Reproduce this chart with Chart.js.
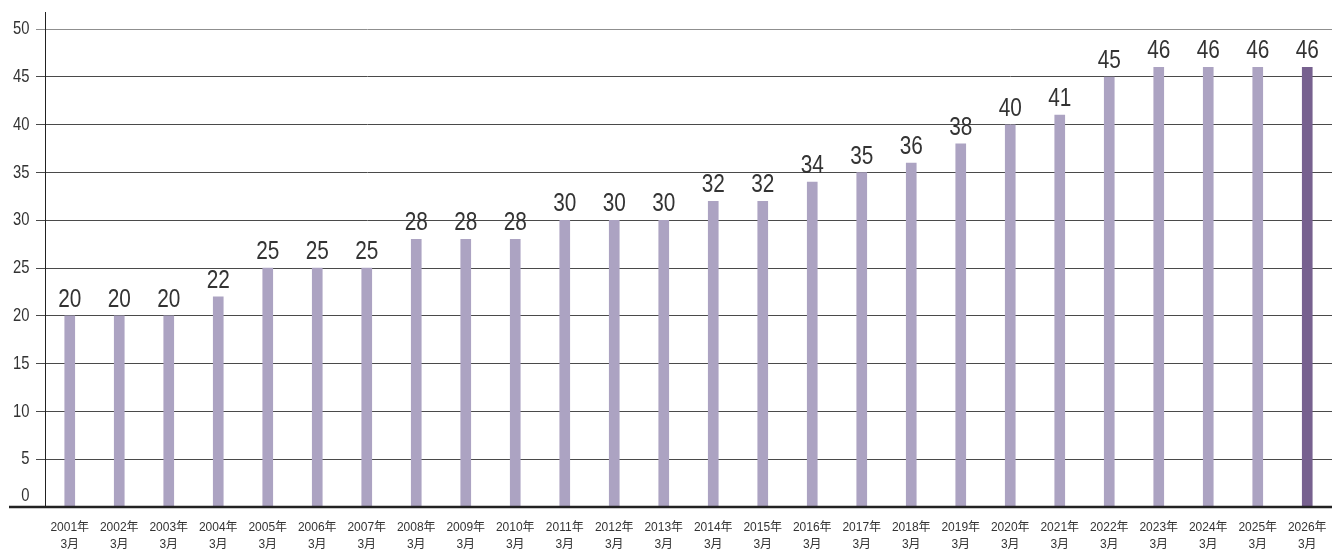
<!DOCTYPE html>
<html>
<head>
<meta charset="utf-8">
<script src="https://cdn.jsdelivr.net/npm/chart.js@4"></script>
<style>
  body { margin: 0; background: #fff; }
  #wrap { width: 1332px; height: 549px; }
</style>
</head>
<body>
<div id="wrap"><canvas id="countChart"></canvas></div>
<script>
// 각 연도 3월 기준 값
const years = [2001, 2002, 2003, 2004, 2005, 2006, 2007, 2008, 2009, 2010, 2011, 2012, 2013,
               2014, 2015, 2016, 2017, 2018, 2019, 2020, 2021, 2022, 2023, 2024, 2025, 2026];
const counts = [20, 20, 20, 22, 25, 25, 25, 28, 28, 28, 30, 30, 30,
                32, 32, 34, 35, 36, 38, 40, 41, 45, 46, 46, 46, 46];
const monthLabel = '3月';
const yTopTick = 50;
const yStep = 5;

const fontFamily = "'Liberation Sans', Arial, 'Noto Sans CJK JP', sans-serif";
const textColor = '#333';
const barColor = '#aca3c2';
const lastBarColor = '#77618f';
const narrow = 0.8;   // 글자 가로 폭 축소 비율

// x축 레이블: 2줄 (연도 / 월)
const xLabels = years.map(y => [`${y}年`, monthLabel]);

// 가로로 좁힌 글자 그리기
const drawNarrowText = (ctx, text, x, y) => {
    ctx.save();
    ctx.translate(x, y);
    ctx.scale(narrow, 1);
    ctx.fillText(text, 0, 0);
    ctx.restore();
};

// 막대 위 값 표시
const barLabels = {
    id: 'barLabels',
    afterDatasetsDraw(chart) {
        const { ctx } = chart;
        const meta = chart.getDatasetMeta(0);
        ctx.save();
        ctx.font = `26px ${fontFamily}`;
        ctx.fillStyle = textColor;
        ctx.textAlign = 'center';
        ctx.textBaseline = 'alphabetic';
        meta.data.forEach((bar, i) => {
            drawNarrowText(ctx, String(counts[i]), bar.x, bar.y - 9);
        });
        ctx.restore();
    }
};

// y축 눈금 글자 (좁은 글꼴), 0은 기준선 위로 올림
const yTickText = {
    id: 'yTickText',
    afterDraw(chart) {
        const { ctx } = chart;
        const yScale = chart.scales.y;
        ctx.save();
        ctx.font = `18.5px ${fontFamily}`;
        ctx.fillStyle = textColor;
        ctx.textAlign = 'right';
        ctx.textBaseline = 'middle';
        yScale.ticks.forEach(t => {
            let y = yScale.getPixelForValue(t.value);
            if (t.value === 0) y -= 11;
            drawNarrowText(ctx, String(t.value), 29.5, y);
        });
        ctx.restore();
    }
};

// 0 위치의 굵은 기준선 (왼쪽 끝까지)
const baseLine = {
    id: 'baseLine',
    afterDraw(chart) {
        const { ctx } = chart;
        const y0 = chart.scales.y.getPixelForValue(0);
        ctx.save();
        ctx.strokeStyle = '#222';
        ctx.lineWidth = 2.5;
        ctx.beginPath();
        ctx.moveTo(9, y0);
        ctx.lineTo(chart.width, y0);
        ctx.stroke();
        ctx.restore();
    }
};

const ctx = document.querySelector('#countChart').getContext('2d');

new Chart(ctx, {
    type: 'bar',
    data: {
        labels: xLabels,
        datasets: [{
            data: counts,
            backgroundColor: counts.map((v, i) => i === counts.length - 1 ? lastBarColor : barColor),
            barThickness: 10,
            borderWidth: 0,
        }],
    },
    options: {
        responsive: true,
        maintainAspectRatio: false,
        animation: false,
        layout: { padding: { top: 12, left: 0, right: 0, bottom: 0 } },
        plugins: {
            legend: { display: false },
            tooltip: { enabled: false },
        },
        scales: {
            x: {
                afterFit: s => {
                    s.height = 42;
                    // 레이블 여백 때문에 오른쪽이 줄어들지 않게
                    s.paddingLeft = 0;
                    s.paddingRight = 0;
                },
                grid: { display: false, drawTicks: false },
                border: { display: false },
                ticks: {
                    padding: 12,
                    color: textColor,
                    autoSkip: false,
                    maxRotation: 0,
                    font: { family: fontFamily, size: 12, lineHeight: 1.45 },
                },
            },
            y: {
                min: 0,
                max: 51.8,
                afterFit: s => { s.width = 45; },
                border: { display: true, color: '#222', width: 1 },
                grid: {
                    color: c => c.tick && c.tick.value === yTopTick ? '#8f8f8f' : '#4a4a4a',
                    lineWidth: 1,
                    tickLength: 9,
                },
                ticks: {
                    stepSize: yStep,
                    includeBounds: false,
                    display: false,
                },
            },
        },
    },
    plugins: [barLabels, yTickText, baseLine],
});
</script>
</body>
</html>
